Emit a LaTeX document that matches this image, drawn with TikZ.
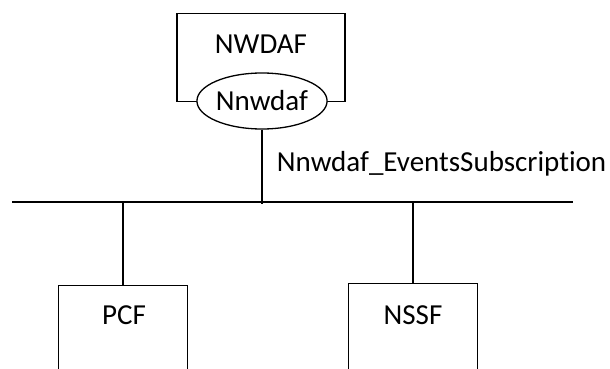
\documentclass[tikz,border=0pt]{standalone}
\usepackage{fontspec}
\setmainfont{Carlito}[Ligatures=CommonOff]
\usetikzlibrary{shapes.geometric}

\begin{document}
\begin{tikzpicture}[x=1pt, y=-1pt, line width=1.3pt,
    nfbox/.style={rectangle, draw, minimum width=129pt, anchor=north},
    svc/.style={ellipse, draw, fill=white, minimum width=130pt, minimum height=56pt, inner sep=0pt},
    txt/.style={font=\fontsize{29}{33}\selectfont}]
  \useasboundingbox (0,0) rectangle (610,369);
  \node[rectangle, draw, minimum width=168pt, minimum height=88pt, anchor=north] (NWDAF) at (261,13) {};
  \node[txt] (NWDAFlabel) at (261,44) {NWDAF};
  \node[svc, txt] (Nnwdaf) at (262,101) {Nnwdaf};
  \coordinate (busL) at (12,202);
  \coordinate (busR) at (573,202);
  \draw (busL) -- (busR);
  \draw (Nnwdaf.south) -- ([yshift=-2pt]Nnwdaf.south |- busL);
  \node[txt, anchor=west] (ifname) at (273,164) {Nnwdaf\_EventsSubscription};
  \node[nfbox, minimum height=130pt] (PCF) at (123,285) {};
  \node[txt] (PCFlabel) at (124,315) {PCF};
  \node[nfbox, minimum height=130pt] (NSSF) at (413,283) {};
  \node[txt] (NSSFlabel) at (413,315) {NSSF};
  \draw (PCF.north) -- (PCF.north |- busL);
  \draw (NSSF.north) -- (NSSF.north |- busL);
\end{tikzpicture}
\end{document}
